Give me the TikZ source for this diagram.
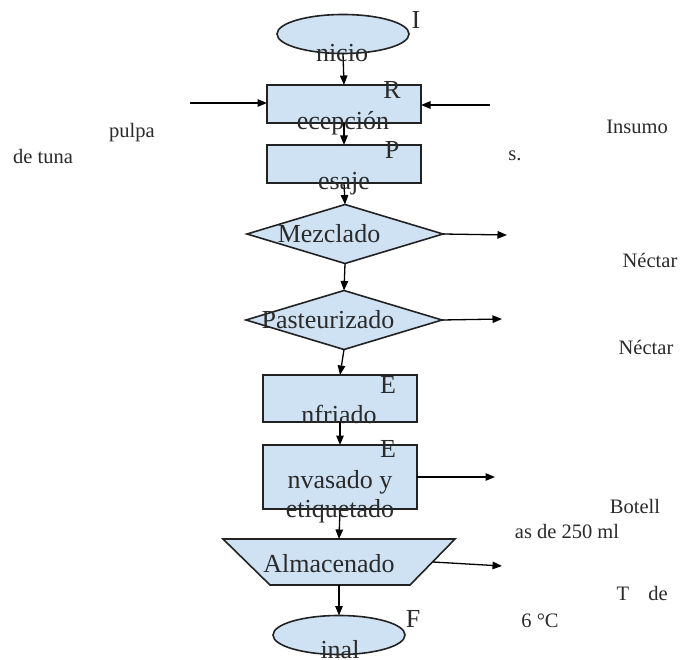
\documentclass[tikz,border=0pt]{standalone}
\usepackage{fontspec}
\setmainfont{Liberation Serif}
\usetikzlibrary{shapes.geometric,arrows.meta}
\definecolor{boxfill}{HTML}{CFE2F3}
\definecolor{inkline}{HTML}{222222}
\definecolor{inktext}{HTML}{2A2A2A}
\begin{document}
\begin{tikzpicture}[x=1pt,y=-1pt,
  shapebox/.style={draw=inkline,line width=1.6pt,fill=boxfill,inner sep=0pt,outer sep=0pt},
  procbox/.style={shapebox,rectangle,minimum width=154pt},
  termbox/.style={shapebox,ellipse,minimum width=132pt,minimum height=39pt},
  decbox/.style={shapebox,diamond,minimum width=196pt,minimum height=59pt},
  flow/.style={draw=black,line width=1.3pt,-{Triangle[length=9.5pt,width=7.5pt]}},
  big/.style={inner sep=0pt,anchor=base,text=inktext,font=\fontsize{26}{28}\selectfont},
  side/.style={inner sep=0pt,anchor=base,text=inktext,font=\fontsize{20.5}{23}\selectfont}]
\useasboundingbox (0,0) rectangle (680,660);

% process shapes
\node[termbox] (ini) at (343,34) {};
\node[procbox,minimum height=38pt] (rec) at (344,104) {};
\node[procbox,minimum height=38pt] (pes) at (344,164) {};
\node[decbox] (mez) at (345,234) {};
\node[decbox] (pas) at (344,320) {};
\node[procbox,minimum height=47pt] (enf) at (340,398.5) {};
\node[procbox,minimum height=64pt] (env) at (340,477) {};
% storage step: inverted trapezoid, wide side on top
\draw[shapebox] (223,539) -- (455,539) -- (410,585) -- (270,585) -- cycle;
\node[inner sep=0pt,outer sep=0pt,minimum width=188pt,minimum height=46pt] (alm) at (339,562) {};
\node[termbox] (fin) at (339,635) {};

% free ends of the side arrows
\coordinate (inL) at (190,103);
\coordinate (inR) at (490,105);
\coordinate (outM) at (507,235);
\coordinate (outP) at (502,319);
\coordinate (outE) at (495,477);
\coordinate (outA) at (502,566);

% main flow
\draw[flow] (ini.south) -- (rec.north);
\draw[flow] (rec.south) -- (pes.north);
\draw[flow] (pes.south) -- (mez.north);
\draw[flow] (mez.south) -- (pas.north);
\draw[flow] (pas.south) -- (enf.north);
\draw[flow] (enf.south) -- (env.north);
\draw[flow] (env.south) -- (alm.north);
\draw[flow] (alm.south) -- (fin.north);

% inputs and outputs
\draw[flow] (inL) -- (rec.west |- inL);
\draw[flow] (inR) -- (rec.east |- inR);
\draw[flow] (mez.east) -- (outM);
\draw[flow] (pas.east) -- (outP);
\draw[flow] (env.east) -- (outE);
\draw[flow] (alm.east) -- (outA);

% labels of the steps
\node[big] (tI) at (416,29) {I};
\node[big] (tIni) at (342,61.5) {nicio};
\node[big] (tR) at (392,99) {R};
\node[big] (tRec) at (343,130) {ecepción};
\node[big] (tP) at (392,159) {P};
\node[big] (tPes) at (344,190) {esaje};
\node[big] (tMez) at (329,243) {Mezclado};
\node[big] (tPas) at (328,328) {Pasteurizado};
\node[big] (tE1) at (388,393) {E};
\node[big] (tEnf) at (339,423) {nfriado};
\node[big] (tE2) at (388,457) {E};
\node[big] (tEnv) at (340,488) {nvasado y};
\node[big] (tEti) at (340,517) {etiquetado};
\node[big] (tAlm) at (329,572) {Almacenado};
\node[big] (tF) at (413,627) {F};
\node[big] (tFin) at (340,658) {inal};

% labels of the inputs and outputs
\node[side] (lPul) at (132,138) {pulpa};
\node[side] (lTun) at (43,164) {de tuna};
\node[side] (lIns) at (637,134) {Insumo};
\node[side] (lS) at (515,161) {s.};
\node[side] (lN1) at (650,268) {Néctar};
\node[side] (lN2) at (646,354) {Néctar};
\node[side] (lBot) at (635,513) {Botell};
\node[side] (lMl) at (567,538) {as de 250 ml};
\node[side] (lT) at (623,600) {T};
\node[side] (lDe) at (658,600) {de};
\node[side] (lC) at (540,627) {6 °C};
\end{tikzpicture}
\end{document}
